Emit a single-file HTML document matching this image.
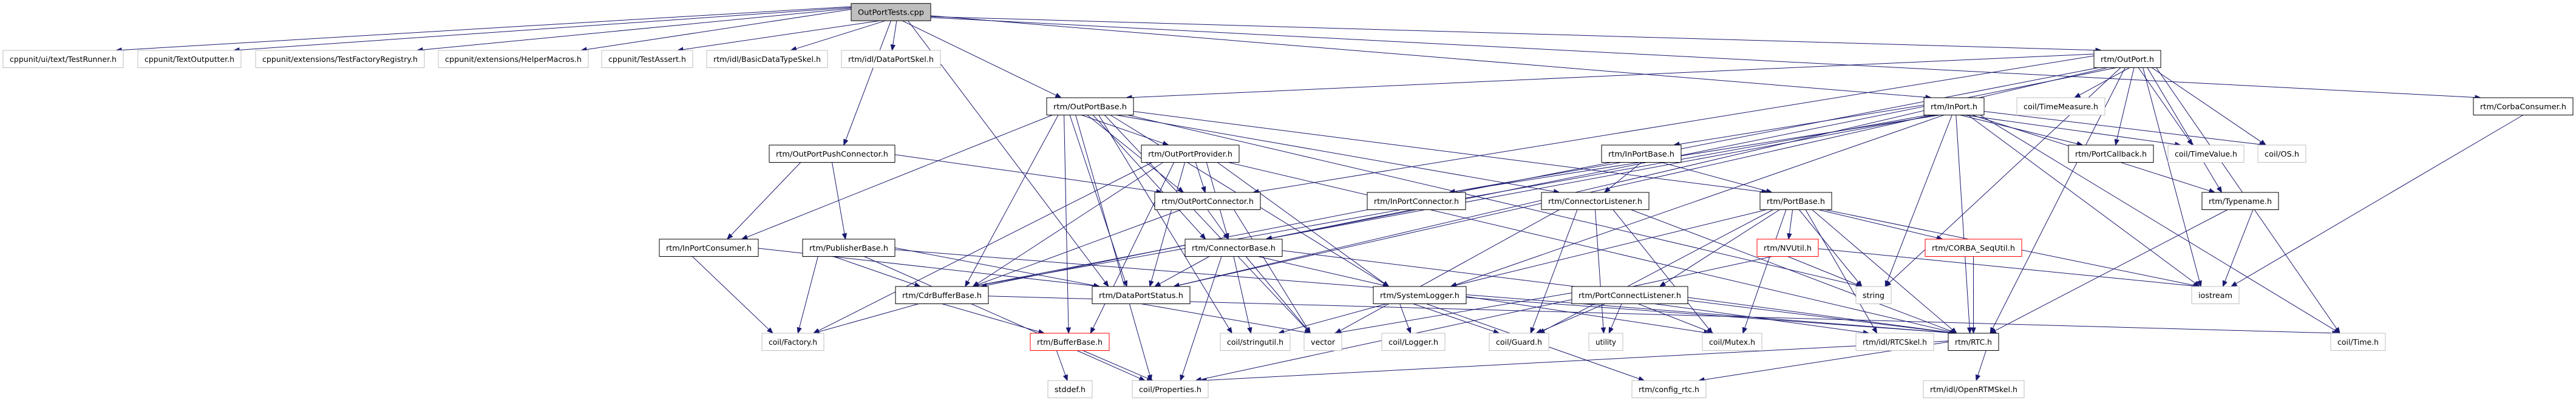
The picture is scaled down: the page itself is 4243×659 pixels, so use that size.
<!DOCTYPE html>
<html><head><meta charset="utf-8"><style>
html,body{margin:0;padding:0;background:#fff;width:4243px;height:659px;overflow:hidden}
svg{display:block}
text{font-family:"DejaVu Sans","Liberation Sans",sans-serif;font-size:12px;fill:#000}
</style></head><body>
<svg id="g" width="4243" height="659" xmlns="http://www.w3.org/2000/svg"></svg>
<script>
var R=[5.7,83,161,239,317,394,472,549,627],H=28.5;
var N={
T:["OutPortTests.cpp",1402,1533,0,"b","#bfbfbf"],
a1:["cppunit/ui/text/TestRunner.h",5,203,1,"g"],
a2:["cppunit/TextOutputter.h",227,397,1,"g"],
a3:["cppunit/extensions/TestFactoryRegistry.h",421,699,1,"g"],
a4:["cppunit/extensions/HelperMacros.h",722,969,1,"g"],
a5:["cppunit/TestAssert.h",991,1141,1,"g"],
a6:["rtm/idl/BasicDataTypeSkel.h",1164,1363,1,"g"],
a7:["rtm/idl/DataPortSkel.h",1386,1549,1,"g"],
OP:["rtm/OutPort.h",3449,3559,1,"b"],
OPB:["rtm/OutPortBase.h",1724,1867,2,"b"],
IP:["rtm/InPort.h",3169,3268,2,"b"],
TM:["coil/TimeMeasure.h",3322,3467,2,"g"],
CC:["rtm/CorbaConsumer.h",4074,4238,2,"b"],
OPC:["rtm/OutPortPushConnector.h",1267,1474,3,"b"],
OPP:["rtm/OutPortProvider.h",1880,2041,3,"b"],
IPB:["rtm/InPortBase.h",2638,2769,3,"b"],
PCB:["rtm/PortCallback.h",3407,3547,3,"b"],
TV:["coil/TimeValue.h",3571,3696,3,"g"],
OS:["coil/OS.h",3719,3798,3,"g"],
OCN:["rtm/OutPortConnector.h",1902,2076,4,"b"],
ICN:["rtm/InPortConnector.h",2252,2414,4,"b"],
CL:["rtm/ConnectorListener.h",2539,2716,4,"b"],
PB:["rtm/PortBase.h",2899,3017,4,"b"],
TN:["rtm/Typename.h",3627,3753,4,"b"],
IC:["rtm/InPortConsumer.h",1086,1249,5,"b"],
PUB:["rtm/PublisherBase.h",1322,1474,5,"b"],
CB:["rtm/ConnectorBase.h",1952,2112,5,"b"],
NV:["rtm/NVUtil.h",2894,2995,5,"r"],
SEQ:["rtm/CORBA_SeqUtil.h",3171,3330,5,"r"],
CDR:["rtm/CdrBufferBase.h",1475,1628,6,"b"],
DPS:["rtm/DataPortStatus.h",1799,1960,6,"b"],
SL:["rtm/SystemLogger.h",2262,2415,6,"b"],
PCL:["rtm/PortConnectListener.h",2589,2780,6,"b"],
STR:["string",3057,3115,6,"g"],
IOS:["iostream",3610,3688,6,"g"],
FAC:["coil/Factory.h",1255,1357,7,"g"],
BB:["rtm/BufferBase.h",1697,1827,7,"r"],
SU:["coil/stringutil.h",2010,2125,7,"g"],
VEC:["vector",2148,2210,7,"g"],
LOG:["coil/Logger.h",2276,2380,7,"g"],
GRD:["coil/Guard.h",2453,2551,7,"g"],
UT:["utility",2617,2673,7,"g"],
MTX:["coil/Mutex.h",2804,2902,7,"g"],
RSK:["rtm/idl/RTCSkel.h",3057,3185,7,"g"],
RTC:["rtm/RTC.h",3209,3292,7,"b"],
TIME:["coil/Time.h",3839,3929,7,"g"],
SD:["stddef.h",1726,1799,8,"g"],
PRP:["coil/Properties.h",1865,1990,8,"g"],
CFG:["rtm/config_rtc.h",2688,2810,8,"g"],
ORS:["rtm/idl/OpenRTMSkel.h",3168,3334,8,"g"]
};
var E={
T:"a1 a2 a3 a4 a5 a6 a7 OPC OPB DPS IP OP CC",
OP:"OPB TM PCB TV OS TN IOS TIME RTC STR CDR DPS OCN CB",
IP:"IPB PCB TV OS TN IOS RTC TIME STR CDR DPS ICN CB SL",
OPB:"IC CDR BB OPP OCN DPS CB PB CL SL VEC PRP SU STR",
OPC:"IC PUB OCN",
OPP:"FAC BB OCN CDR DPS SL RTC CB",
OCN:"CDR CB VEC",
IC:"FAC DPS",
PUB:"FAC PRP CDR DPS RTC",
CB:"CDR DPS SL PRP SU VEC RTC",
CDR:"FAC BB TIME",
DPS:"VEC",
BB:"SD PRP",
IPB:"ICN CL PB",
ICN:"CB",
CL:"VEC GRD UT MTX RTC",
PB:"SL GRD PCL NV STR MTX RTC RSK SEQ IOS",
NV:"PRP STR IOS",
SEQ:"RTC",
SL:"SU LOG GRD CFG MTX RTC",
PCL:"VEC GRD UT MTX RSK RTC",
RTC:"PRP CFG ORS",
TN:"IOS RTC",
CC:"IOS"
};
var s="",col="#191970";
function cx(n){return (n[1]+n[2])/2}
for(var k in E){var a=N[k];var ts=E[k].split(" ").filter(function(t){return N[t]});
 ts.sort(function(p,q){return cx(N[p])-cx(N[q])});
 var w=a[2]-a[1];
 ts.forEach(function(t,i){var b=N[t];
  var x1=a[1]+w*(i+1)/(ts.length+1),y1=R[a[3]]+H;
  var x2=cx(b)+Math.max(-(b[2]-b[1])/3,Math.min((b[2]-b[1])/3,(x1-cx(b))*0.2)),y2=R[b[3]];
  var ddx=cx(b)-cx(a),ddy=R[b[3]]-R[a[3]];
  if(Math.abs(ddx)>6*ddy){
    if(ddx>0){x1=a[2];x2=b[1]+12;}else{x1=a[1];x2=b[2]-12;}
    y1=R[a[3]]+H/2+(i-(ts.length-1)/2)*1.5;
  }
  var dx=x2-x1,dy=y2-y1,L=Math.sqrt(dx*dx+dy*dy)||1;
  var vx=dx/L,vy=dy/L;
  var ex=x2-vx*9,ey=y2-vy*9;
  s+='<line x1="'+x1.toFixed(1)+'" y1="'+y1.toFixed(1)+'" x2="'+ex.toFixed(1)+'" y2="'+ey.toFixed(1)+'" stroke="'+col+'" stroke-width="1"/>';
  var px=-vy,py=vx;
  s+='<polygon points="'+x2.toFixed(1)+','+y2.toFixed(1)+' '+(ex+px*3.5).toFixed(1)+','+(ey+py*3.5).toFixed(1)+' '+(ex-px*3.5).toFixed(1)+','+(ey-py*3.5).toFixed(1)+'" fill="'+col+'" stroke="'+col+'"/>';
 });}
for(var k in N){var n=N[k];var w=n[2]-n[1],y=R[n[3]];
 var st=n[4]=="b"?"#000":n[4]=="r"?"#ff0000":"#bfbfbf";
 var fill=n[5]||"#fff";
 s+='<rect x="'+n[1]+'" y="'+y+'" width="'+w+'" height="'+H+'" fill="'+fill+'" stroke="'+st+'" stroke-width="1"/>';
 var tl=Math.max(10,w-22);
 s+='<text x="'+(n[1]+w/2)+'" y="'+(y+H/2+4.5)+'" text-anchor="middle" textLength="'+tl+'" lengthAdjust="spacingAndGlyphs">'+n[0]+'</text>';
}
document.getElementById("g").innerHTML=s;
</script>
</body></html>
